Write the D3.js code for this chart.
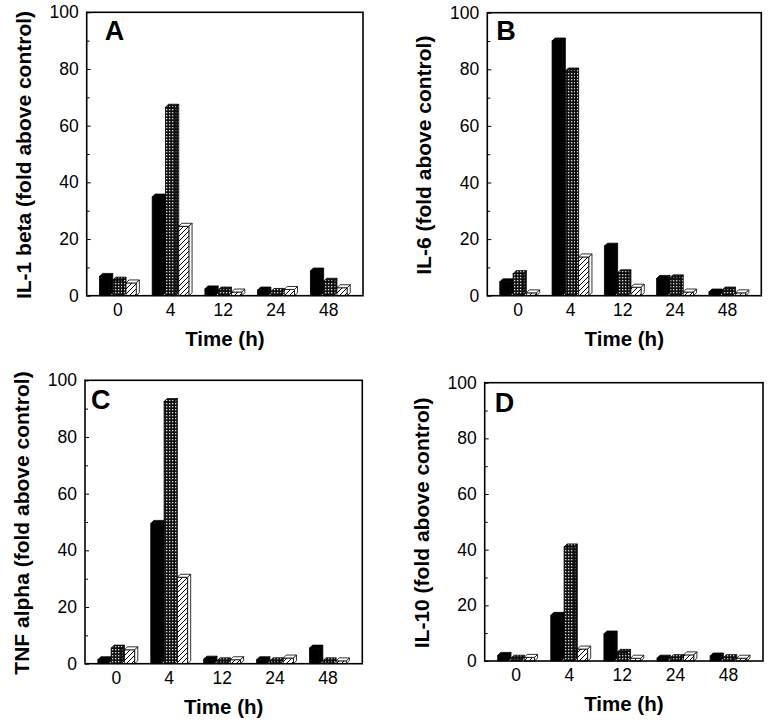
<!DOCTYPE html>
<html>
<head>
<meta charset="utf-8">
<script src="https://cdn.jsdelivr.net/npm/d3@7"></script>
<style>
  body { margin: 0; background: #fff; }
  svg text { font-family: "Liberation Sans", Arial, Helvetica, sans-serif; }
</style>
</head>
<body>
<svg id="chart" width="768" height="725"></svg>
<script>
// time points (x categories)
const times = ["0", "4", "12", "24", "48"];
const yTicks = [0, 20, 40, 60, 80, 100];
const yMinorTicks = [10, 30, 50, 70, 90];

// IL-1 beta
const il1bSolid = [6.8, 34.8, 2.4, 2.0, 8.7];
const il1bGrid = [5.5, 66.5, 2.0, 1.5, 5.1];
const il1bHatch = [4.5, 24.5, 1.3, 2.2, 2.8];

// IL-6
const il6Solid = [4.9, 90, 17.5, 6.1, 1.3];
const il6Grid = [7.8, 79.4, 8.1, 6.3, 2.0];
const il6Hatch = [1.0, 13.7, 3.0, 1.3, 1.0];

// TNF alpha
const tnfSolid = [1.4, 49.5, 1.6, 1.4, 5.5];
const tnfGrid = [5.5, 92.5, 1.0, 1.0, 1.0];
const tnfHatch = [4.9, 30.5, 1.4, 2.0, 1.0];

// IL-10
const il10Solid = [2.0, 16.4, 9.7, 1.0, 1.8];
const il10Grid = [1.0, 41, 3.1, 1.2, 1.2];
const il10Hatch = [1.3, 4.3, 1.0, 2.2, 1.0];

const panels = [
  { letter: "A", label: "IL-1 beta (fold above control)", series: [il1bSolid, il1bGrid, il1bHatch],
    left: 86.7, top: 12.3, right: 363, bottom: 295.7, lx: 18, ly: 27.5 },
  { letter: "B", label: "IL-6 (fold above control)", series: [il6Solid, il6Grid, il6Hatch],
    left: 487.3, top: 12.7, right: 761.3, bottom: 295.7, lx: 9, ly: 27.5 },
  { letter: "C", label: "TNF alpha (fold above control)", series: [tnfSolid, tnfGrid, tnfHatch],
    left: 85, top: 380.3, right: 362.3, bottom: 663.7, lx: 6, ly: 29 },
  { letter: "D", label: "IL-10 (fold above control)", series: [il10Solid, il10Grid, il10Hatch],
    left: 484.7, top: 382.7, right: 763, bottom: 661, lx: 10, ly: 29 },
];

const svg = d3.select("#chart");

// fill patterns
const defs = svg.append("defs");
const grid = defs.append("pattern")
  .attr("id", "grid")
  .attr("patternUnits", "userSpaceOnUse")
  .attr("width", 3).attr("height", 3);
grid.append("rect").attr("width", 3).attr("height", 3).attr("fill", "#111");
grid.append("rect").attr("x", 1).attr("y", 1).attr("width", 1.3).attr("height", 1.3).attr("fill", "#ddd");

const hatch = defs.append("pattern")
  .attr("id", "hatch")
  .attr("patternUnits", "userSpaceOnUse")
  .attr("width", 5).attr("height", 5);
hatch.append("rect").attr("width", 5).attr("height", 5).attr("fill", "#fff");
hatch.append("path")
  .attr("d", "M0,5 L5,0 M-1,1 L1,-1 M4,6 L6,4")
  .attr("stroke", "#000")
  .attr("stroke-width", 1);

const faceStyles = [
  { front: "#000", top: "#000", side: "#000" },
  { front: "url(#grid)", top: "url(#grid)", side: "url(#grid)" },
  { front: "url(#hatch)", top: "#fff", side: "#fff" },
];

const step = 13.3; // distance between bar starts
const fw = 10.3;   // front face width
const depth = 3;   // 3D offset

panels.forEach((p) => {
  const x = d3.scalePoint()
    .domain(times)
    .range([p.left, p.right])
    .padding(0.62);
  const y = d3.scaleLinear()
    .domain([0, 100])
    .range([p.bottom, p.top]);

  const g = svg.append("g");

  // bars
  p.series.forEach((vals, k) => {
    const st = faceStyles[k];
    times.forEach((t, i) => {
      const x0 = x(t) - 1.5 * step + k * step;
      const yt = y(vals[i]);
      const y0 = y(0);
      const bar = g.append("g");
      bar.append("rect")
        .attr("x", x0).attr("y", yt)
        .attr("width", fw).attr("height", y0 - yt)
        .attr("fill", st.front)
        .attr("stroke", "#000").attr("stroke-width", 0.8);
      bar.append("path")
        .attr("d", `M${x0},${yt} L${x0 + depth},${yt - depth} L${x0 + fw + depth},${yt - depth} L${x0 + fw},${yt} Z`)
        .attr("fill", st.top)
        .attr("stroke", "#000").attr("stroke-width", 0.8);
      bar.append("path")
        .attr("d", `M${x0 + fw},${yt} L${x0 + fw + depth},${yt - depth} L${x0 + fw + depth},${y0 - depth} L${x0 + fw},${y0} Z`)
        .attr("fill", st.side)
        .attr("stroke", "#000").attr("stroke-width", 0.8);
    });
  });

  // frame
  g.append("rect")
    .attr("x", p.left).attr("y", p.top)
    .attr("width", p.right - p.left).attr("height", p.bottom - p.top)
    .attr("fill", "none")
    .attr("stroke", "#000").attr("stroke-width", 1.6);

  // y axis (ticks inside)
  const yAxis = g.append("g")
    .attr("transform", `translate(${p.left},0)`)
    .call(d3.axisLeft(y).tickValues(yTicks).tickSize(-4).tickPadding(8));
  yAxis.select(".domain").remove();
  yAxis.selectAll("text").style("font-size", "17.5px").attr("fill", "#000");

  const yMinor = g.append("g")
    .attr("transform", `translate(${p.left},0)`)
    .call(d3.axisLeft(y).tickValues(yMinorTicks).tickSize(-3).tickFormat(""));
  yMinor.select(".domain").remove();

  // x axis labels
  const xAxis = g.append("g")
    .attr("transform", `translate(-2,${p.bottom})`)
    .call(d3.axisBottom(x).tickSize(0).tickPadding(8));
  xAxis.select(".domain").remove();
  xAxis.selectAll("text").style("font-size", "17.5px").attr("fill", "#000");

  // titles
  g.append("text")
    .attr("x", (p.left + p.right) / 2)
    .attr("y", p.bottom + 50)
    .attr("text-anchor", "middle")
    .style("font-size", "20.5px")
    .style("font-weight", "bold")
    .text("Time (h)");

  g.append("text")
    .attr("transform", `translate(${p.left - 56},${(p.top + p.bottom) / 2 + 1}) rotate(-90)`)
    .attr("text-anchor", "middle")
    .style("font-size", "21px")
    .style("font-weight", "bold")
    .text(p.label);

  g.append("text")
    .attr("x", p.left + p.lx)
    .attr("y", p.top + p.ly)
    .style("font-size", "27px")
    .style("font-weight", "bold")
    .text(p.letter);
});
</script>
</body>
</html>
